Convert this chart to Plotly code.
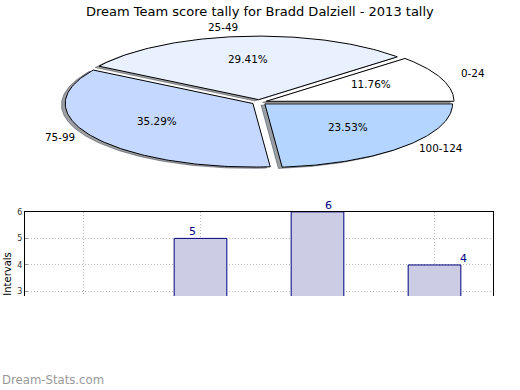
import numpy as np
import plotly.graph_objects as go

# ---- data ----
CATEGORIES = ["0-24", "25-49", "75-99", "100-124"]
COUNTS = [2, 5, 6, 4]
SLICE_COLORS = ["#ffffff", "#e9f1ff", "#c5d8ff", "#b4d5ff"]
TITLE = "Dream Team score tally for Bradd Dalziell - 2013 tally"
BAR_YTICKS = [3, 4, 5, 6]
BAR_LABEL_SHIFT = [-27.5, -8.5, 10.5, 28.5]
WATERMARK = "Dream-Stats.com"

W, H = 520, 390
FONT = "DejaVu Sans"

# pie geometry (pixels)
CX, CY, RX, RY = 259.3, 99.2, 187.7, 64.2
EXPLODE = 0.04
SHADOW = (-0.02, -0.02)
SPAN = 1.3
TXT_SHIFT = 3

fig = go.Figure()

total = float(sum(COUNTS))
fracs = [c / total for c in COUNTS]
starts = np.cumsum([0.0] + fracs[:-1]) * 2 * np.pi
ends = starts + np.array(fracs) * 2 * np.pi


def rgb(h):
    h = h.lstrip("#")
    return tuple(int(h[i:i + 2], 16) for i in (0, 2, 4))


polys = []
for i, (t0, t1) in enumerate(zip(starts, ends)):
    mid = 0.5 * (t0 + t1)
    ex, ey = EXPLODE * np.cos(mid), EXPLODE * np.sin(mid)
    a = np.linspace(t0, t1, 120)
    xs = np.concatenate([[ex], ex + np.cos(a), [ex]])
    ys = np.concatenate([[ey], ey + np.sin(a), [ey]])
    polys.append((xs, ys, mid, ex, ey))

# shadows first
for i, (xs, ys, mid, ex, ey) in enumerate(polys):
    r, g, b = rgb(SLICE_COLORS[i])
    sc = "rgba(%d,%d,%d,0.5)" % (r * 0.3, g * 0.3, b * 0.3)
    fig.add_trace(go.Scatter(x=xs + SHADOW[0], y=ys + SHADOW[1], mode="lines",
                             fill="toself", fillcolor=sc,
                             line=dict(color=sc, width=1),
                             xaxis="x2", yaxis="y2", hoverinfo="skip",
                             showlegend=False))
for i, (xs, ys, mid, ex, ey) in enumerate(polys):
    fig.add_trace(go.Scatter(x=xs, y=ys, mode="lines", fill="toself",
                             fillcolor=SLICE_COLORS[i],
                             line=dict(color="black", width=1),
                             xaxis="x2", yaxis="y2", hoverinfo="skip",
                             showlegend=False))

annotations = []
for i, (xs, ys, mid, ex, ey) in enumerate(polys):
    lx, ly = ex + 1.1 * np.cos(mid), ey + 1.1 * np.sin(mid)
    annotations.append(dict(x=lx, y=ly, xref="x2", yref="y2",
                            text=CATEGORIES[i], showarrow=False,
                            xanchor="left" if lx > 0 else "right",
                            yanchor="middle", yshift=TXT_SHIFT,
                            font=dict(family=FONT, size=10.4, color="black")))
    px, py = ex + 0.6 * np.cos(mid), ey + 0.6 * np.sin(mid)
    annotations.append(dict(x=px, y=py, xref="x2", yref="y2",
                            text="%.2f%%" % (100 * fracs[i]), showarrow=False,
                            xanchor="center", yanchor="middle", yshift=TXT_SHIFT,
                            font=dict(family=FONT, size=10.4, color="black")))

# ---- bar chart ----
YMIN, YMAX = 2.832, 6.0
fig.add_trace(go.Bar(x=CATEGORIES, y=COUNTS, width=0.45,
                     marker=dict(color="#ccccE4", line=dict(color="#000080", width=1)),
                     xaxis="x", yaxis="y", showlegend=False, hoverinfo="skip"))
for i, v in enumerate(COUNTS):
    if YMIN <= v <= YMAX + 1:
        annotations.append(dict(x=CATEGORIES[i], y=v, xref="x", yref="y",
                                text=str(v), showarrow=False,
                                xanchor="center", yanchor="bottom",
                                xshift=BAR_LABEL_SHIFT[i], yshift=-2,
                                font=dict(family=FONT, size=11, color="#000080")))

annotations.append(dict(x=259.5 / W, y=1 - 10.5 / H, xref="paper", yref="paper",
                        text=TITLE, showarrow=False, xanchor="center",
                        yanchor="middle", yshift=TXT_SHIFT,
                        font=dict(family=FONT, size=13, color="black")))
annotations.append(dict(x=7.5 / W, y=1 - 273 / H, xref="paper", yref="paper",
                        text="Intervals", textangle=-90, showarrow=False,
                        xanchor="center", yanchor="middle",
                        font=dict(family=FONT, size=10, color="black")))
annotations.append(dict(x=0, y=1 - 380 / H, xref="paper", yref="paper",
                        text=WATERMARK, showarrow=False, xanchor="left",
                        yanchor="middle",
                        font=dict(family=FONT, size=11.7, color="#9a9a9a")))

fig.update_layout(
    width=W, height=H,
    margin=dict(l=0, r=0, t=0, b=0),
    paper_bgcolor="white", plot_bgcolor="white",
    showlegend=False,
    annotations=annotations,
    bargap=0,
    xaxis=dict(domain=[25 / W, 493 / W], range=[-0.5, 3.5], type="category",
               categoryorder="array", categoryarray=CATEGORIES,
               side="top", showline=True, linecolor="black", linewidth=1,
               showticklabels=False, ticks="", showgrid=True,
               gridcolor="#b8b8b8", griddash="1px,2px", gridwidth=1,
               zeroline=False, anchor="y", fixedrange=True),
    yaxis=dict(domain=[1 - 295 / H, 1 - 210 / H], range=[YMIN, YMAX],
               tickvals=BAR_YTICKS, ticks="inside", ticklen=3,
               tickcolor="#999999", tickfont=dict(family=FONT, size=8, color="#333333"),
               showline=True, mirror=True, linecolor="black", linewidth=1,
               showgrid=True, gridcolor="#b8b8b8", griddash="1px,2px", gridwidth=1,
               zeroline=False, anchor="x", fixedrange=True),
    xaxis2=dict(domain=[(CX - SPAN * RX) / W, (CX + SPAN * RX) / W],
                range=[-SPAN, SPAN], visible=False, anchor="y2", fixedrange=True),
    yaxis2=dict(domain=[1 - (CY + SPAN * RY) / H, 1 - (CY - SPAN * RY) / H],
                range=[-SPAN, SPAN], visible=False, anchor="x2", fixedrange=True),
)

fig.write_html("out.html", config={"displayModeBar": False, "staticPlot": True},
               post_script="document.body.style.margin='0';document.body.style.overflow='hidden';")
